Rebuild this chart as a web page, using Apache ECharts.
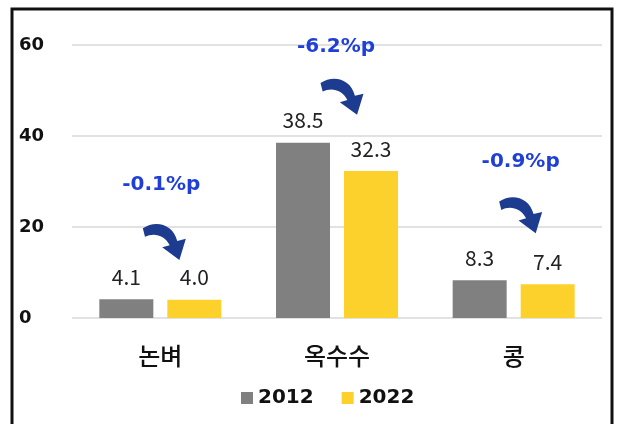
<!DOCTYPE html>
<html>
<head>
<meta charset="utf-8">
<script src="https://cdn.jsdelivr.net/npm/echarts@6/dist/echarts.min.js"></script>
<style>
  html, body { margin: 0; padding: 0; background: #fff; }
  #chart { width: 623px; height: 424px; }
</style>
</head>
<body>
<div id="chart"></div>
<script>
// 작물별 비중 (%)
const crops = ["논벼", "옥수수", "콩"];
const years = ["2012", "2022"];
const values2012 = [4.1, 38.5, 8.3];
const values2022 = [4.0, 32.3, 7.4];
const yTicks = [0, 20, 40, 60];

// 변화량 주석 (텍스트 위치 값, 화살표 위치 값)
const changeText = ["-0.1%p", "-6.2%p", "-0.9%p"];
const changeTextAt = [29.2, 59.6, 34.3];
const arrowAt = [16.7, 48.6, 22.6];

const barW = 54, barGapPx = 14;
const half = (barW + barGapPx) / 2; // 막대 중심 -> 카테고리 중심
const arrowPath = "path://M0 6 C 12 -2, 28 2, 32 18 L 40 16 L 34 36 L 18 24 L 25 22 C 20 12, 10 10, 2 14 Z";
const font = "'Noto Sans CJK KR', 'Noto Sans', sans-serif";
const boldFont = "'DejaVu Sans', 'Noto Sans CJK KR', sans-serif";

let chart = echarts.init(document.getElementById("chart"));

let textDx = [1, -1, 7];
let arrowDx = [4, 5, 7];
let textPoints = crops.map((c, i) => ({
  coord: [i, changeTextAt[i]],
  symbolOffset: [half + textDx[i], 0],
  label: { formatter: changeText[i] }
}));
let arrowPoints = crops.map((c, i) => ({
  coord: [i, arrowAt[i]],
  symbolOffset: [-half + arrowDx[i], 0]
}));

let valueLabel = {
  show: true, position: "top", distance: 12, fontSize: 21, color: "#222",
  formatter: p => p.value.toFixed(1)
};

let option = {
  animation: false,
  textStyle: { fontFamily: font },
  grid: { left: 72, right: 21, top: 45, bottom: 106 },
  legend: {
    data: years,
    top: 383,
    left: 236,
    itemWidth: 12,
    itemHeight: 12,
    itemGap: 28,
    icon: "rect",
    textStyle: { fontSize: 20, fontWeight: "bold", color: "#111", fontFamily: boldFont }
  },
  xAxis: {
    type: "category",
    data: crops,
    axisLine: { show: false },
    axisTick: { show: false },
    axisLabel: { fontSize: 24, color: "#111", margin: 26, fontWeight: 500 }
  },
  yAxis: {
    type: "value",
    min: yTicks[0],
    max: yTicks[yTicks.length - 1],
    interval: 20,
    axisLabel: { fontSize: 18, fontWeight: "bold", color: "#111", align: "left", margin: 53, fontFamily: boldFont },
    splitLine: { lineStyle: { color: "#d9d9d9", width: 1.5 } }
  },
  series: [
    {
      name: years[0],
      type: "bar",
      data: values2012,
      barWidth: barW,
      barGap: (barGapPx / barW * 100) + "%",
      itemStyle: { color: "#808080" },
      label: valueLabel,
      markPoint: {
        silent: true,
        symbol: "rect",
        symbolSize: 0,
        data: textPoints,
        label: { show: true, position: "inside", fontSize: 20, fontWeight: "bold", color: "#1f3fd6", fontFamily: boldFont }
      }
    },
    {
      name: years[1],
      type: "bar",
      data: values2022,
      barWidth: barW,
      itemStyle: { color: "#fdd12b" },
      label: valueLabel,
      markPoint: {
        silent: true,
        symbol: arrowPath,
        symbolSize: [43, 36],
        itemStyle: { color: "#1d3c8f" },
        label: { show: false },
        data: arrowPoints
      }
    }
  ],
  graphic: [
    {
      type: "rect",
      shape: { x: 12, y: 9, width: 600, height: 430 },
      style: { fill: "none", stroke: "#111", lineWidth: 3 },
      silent: true
    }
  ]
};

chart.setOption(option);
</script>
</body>
</html>
